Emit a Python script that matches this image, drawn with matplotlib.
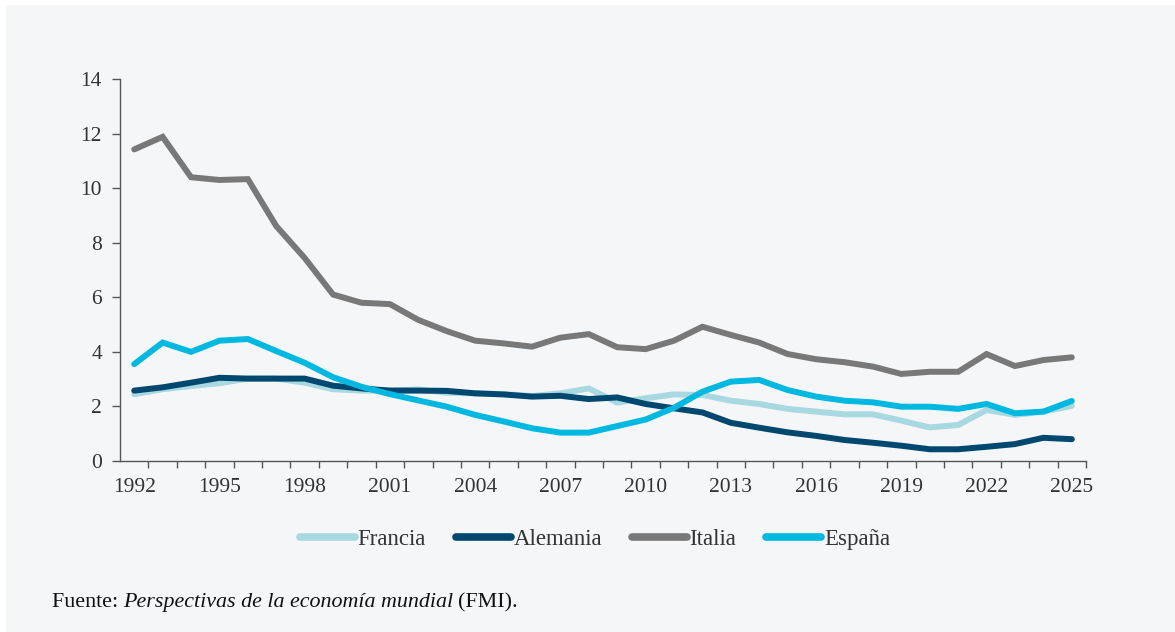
import matplotlib
matplotlib.use('Agg')
import matplotlib.pyplot as plt
from matplotlib.patches import Rectangle
import numpy as np

# Data
years = np.arange(1992, 2026)
francia = [2.45, 2.63, 2.75, 2.85, 3.02, 3.02, 2.87, 2.63, 2.58, 2.58,
           2.62, 2.50, 2.48, 2.45, 2.38, 2.48, 2.66, 2.14, 2.30, 2.44,
           2.42, 2.21, 2.09, 1.91, 1.81, 1.71, 1.71, 1.48, 1.23, 1.32,
           1.87, 1.69, 1.81, 2.02]
alemania = [2.58, 2.70, 2.87, 3.05, 3.02, 3.02, 3.02, 2.76, 2.66, 2.58,
            2.58, 2.57, 2.48, 2.44, 2.36, 2.39, 2.27, 2.33, 2.09, 1.93,
            1.78, 1.40, 1.22, 1.05, 0.92, 0.77, 0.67, 0.56, 0.43, 0.43,
            0.52, 0.62, 0.85, 0.80]
italia = [11.42, 11.88, 10.40, 10.30, 10.33, 8.61, 7.44, 6.10, 5.80, 5.75,
          5.17, 4.76, 4.41, 4.31, 4.19, 4.52, 4.65, 4.17, 4.10, 4.41,
          4.92, 4.62, 4.34, 3.92, 3.73, 3.62, 3.46, 3.19, 3.27, 3.27,
          3.92, 3.48, 3.70, 3.80]
espana = [3.55, 4.34, 4.00, 4.41, 4.47, 4.03, 3.60, 3.07, 2.72, 2.45,
          2.22, 1.99, 1.69, 1.45, 1.20, 1.04, 1.04, 1.28, 1.52, 1.95,
          2.54, 2.91, 2.97, 2.60, 2.36, 2.21, 2.15, 1.99, 1.99, 1.91,
          2.09, 1.75, 1.81, 2.20]

series = [('Francia', francia, '#a8d8e0'),
          ('Alemania', alemania, '#00486f'),
          ('Italia', italia, '#787878'),
          ('España', espana, '#00b8e0')]

bg = '#f5f6f8'
txt = '#333333'
plt.rcParams['font.family'] = ['Liberation Serif', 'DejaVu Serif']

fig = plt.figure(figsize=(11.75, 6.32), dpi=100, facecolor='white')
fig.patches.append(Rectangle((6/1175, 0), 1, 1 - 5/632, transform=fig.transFigure,
                             facecolor=bg, edgecolor='none', zorder=-10))
ax = fig.add_axes([120/1175, 1 - 461/632, 966/1175, 382/632])
ax.set_facecolor(bg)
ax.patch.set_alpha(0)

for name, vals, col in series:
    ax.plot(years, vals, color=col, lw=4.3, label=name,
            solid_capstyle='round', solid_joinstyle='miter')

ax.set_xlim(1991.5, 2025.5)
ax.set_ylim(0, 14)
ax.set_yticks(np.arange(0, 15, 2))
ax.set_xticks(years[::3])
ax.set_xticks(np.arange(1992.5, 2025.6, 1), minor=True)
ax.tick_params(axis='x', which='major', length=0, pad=12, labelsize=15.5, labelcolor=txt)
ax.tick_params(axis='x', which='minor', length=5, width=1, color='#555555')
ax.tick_params(axis='y', length=6, width=1, color='#555555', pad=7,
               labelsize=15.5, labelcolor=txt)
for s in ['top', 'right']:
    ax.spines[s].set_visible(False)
for s in ['left', 'bottom']:
    ax.spines[s].set_color('#555555')
    ax.spines[s].set_linewidth(1)

leg = fig.legend(loc='center', bbox_to_anchor=(595/1175, 1 - 539/632), ncol=4,
                 frameon=False, fontsize=16.5, handlelength=2.4, handletextpad=0.12,
                 columnspacing=1.3, labelcolor=txt)
for h in leg.get_lines():
    h.set_linewidth(5.5)
    h.set_solid_capstyle('round')

# Footnote with italic title
fig.canvas.draw()
r = fig.canvas.get_renderer()
x0 = 52 / 1175
yb = 1 - 607 / 632
fs = 15.8
t1 = fig.text(x0, yb, 'Fuente: ', fontsize=fs, color='#111111', va='baseline')
bb = t1.get_window_extent(r)
t2 = fig.text(bb.x1 / 1175, yb, 'Perspectivas de la economía mundial', fontsize=fs,
              style='italic', color='#111111', va='baseline')
bb = t2.get_window_extent(r)
fig.text(bb.x1 / 1175 + 4 / 1175, yb, '(FMI).', fontsize=fs, color='#111111', va='baseline')

fig.savefig('out.png', dpi=100, facecolor='white')
